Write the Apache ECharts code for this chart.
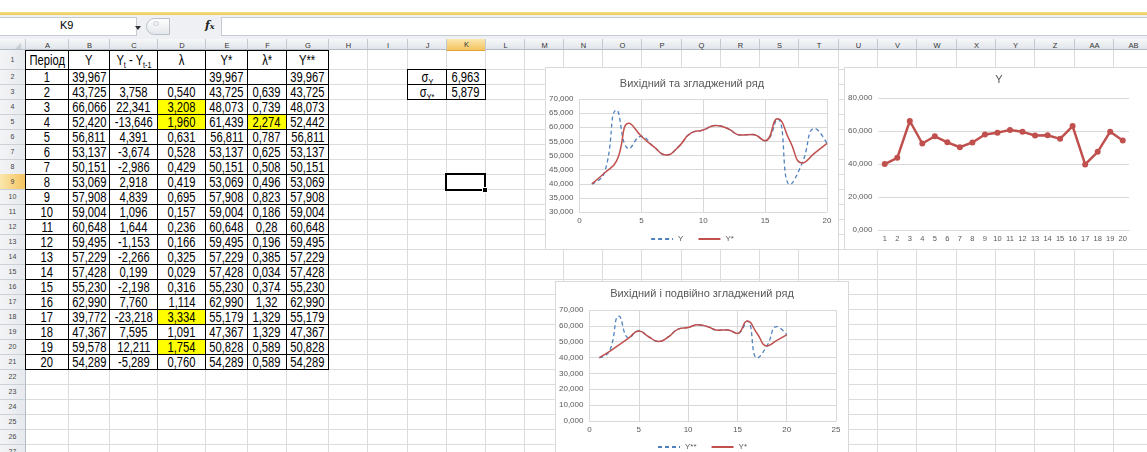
<!DOCTYPE html>
<html><head><meta charset="utf-8">
<script src="https://cdn.jsdelivr.net/npm/echarts@6/dist/echarts.min.js"></script>
<style>
html,body{margin:0;padding:0;width:1147px;height:452px;overflow:hidden;background:#fff;font-family:"Liberation Sans",Arial,sans-serif;}
#sheet{position:absolute;left:0;top:0;width:1147px;height:452px;overflow:hidden;}
.a{position:absolute;box-sizing:border-box;}
.c{display:flex;align-items:center;justify-content:center;white-space:nowrap;}
.t{display:inline-block;transform:scaleX(0.8);transform-origin:center;}
sub{font-size:9px;vertical-align:-3px;line-height:0;}
</style></head><body><div id="sheet"></div>
<script>
// ---------- data ----------
const periods = [1,2,3,4,5,6,7,8,9,10,11,12,13,14,15,16,17,18,19,20];
const valuesY = [39.967,43.725,66.066,52.420,56.811,53.137,50.151,53.069,57.908,59.004,60.648,59.495,57.229,57.428,55.230,62.990,39.772,47.367,59.578,54.289];
const diffY = [null,3.758,22.341,-13.646,4.391,-3.674,-2.986,2.918,4.839,1.096,1.644,-1.153,-2.266,0.199,-2.198,7.760,-23.218,7.595,12.211,-5.289];
const lambda = [null,0.540,3.208,1.960,0.631,0.528,0.429,0.419,0.695,0.157,0.236,0.166,0.325,0.029,0.316,1.114,3.334,1.091,1.754,0.760];
const valuesYStar = [39.967,43.725,48.073,61.439,56.811,53.137,50.151,53.069,57.908,59.004,60.648,59.495,57.229,57.428,55.230,62.990,55.179,47.367,50.828,54.289];
const lambdaStar = [null,0.639,0.739,2.274,0.787,0.625,0.508,0.496,0.823,0.186,0.28,0.196,0.385,0.034,0.374,1.32,1.329,1.329,0.589,0.589];
const valuesYStar2 = [39.967,43.725,48.073,52.442,56.811,53.137,50.151,53.069,57.908,59.004,60.648,59.495,57.229,57.428,55.230,62.990,55.179,47.367,50.828,54.289];
const headers = ['Період','Y','Y<sub>t</sub> - Y<sub>t-1</sub>','λ','Y*','λ*','Y**'];
const sigmaLabels = ['σ<sub>Y</sub>','σ<sub>Y*</sub>'];
const sigmaValues = [6.963, 5.879];
const colLetters = ['A','B','C','D','E','F','G','H','I','J','K','L','M','N','O','P','Q','R','S','T','U','V','W','X','Y','Z','AA','AB'];
const chart1Title = 'Вихідний та згладжений ряд';
const chart2Title = 'Y';
const chart3Title = 'Вихідний і подвійно згладжений ряд';

// ---------- layout ----------
const xs = [0,25,68,109,157,205,247,286,328,367,407,446,485,524,563,602,641,681,720,759,798,838,877,916,956,995,1034,1074,1113,1152];
function rowTop(r){ return r===1 ? 50 : 69 + (r-2)*15; }
function rowBot(r){ return r===1 ? 69 : rowTop(r)+15; }
const sheet = document.getElementById('sheet');
function el(css, html, cls){ const d=document.createElement('div'); d.className='a '+(cls||''); d.style.cssText=css; if(html!==undefined) d.innerHTML=html; sheet.appendChild(d); return d; }
const f3 = v => v.toFixed(3).replace('.', ',');
const fg = v => String(v).replace('.', ',');

// top bar + formula bar
el('left:0;top:0;width:1147px;height:12px;background:#fff;');
el('left:0;top:12px;width:1147px;height:3px;background:linear-gradient(#f7e08a,#eccb55);');
el('left:0;top:15px;width:1147px;height:24px;background:#eef0f3;');
el('left:0;top:17px;width:137px;height:19px;background:#fff;border:1px solid #c5cbd3;border-left:none;');
el('left:60px;top:19px;width:30px;height:15px;font-size:11px;color:#000;', 'K9');
el('left:135px;top:26px;width:0;height:0;border-left:3px solid transparent;border-right:3px solid transparent;border-top:4px solid #333;');
el('left:146px;top:18px;width:24px;height:17px;border:1px solid #b9c0ca;border-radius:9px 0 0 9px;background:linear-gradient(#fdfdfd,#e4e7eb);');
el('left:153px;top:21px;width:6px;height:5px;border:1px solid #cfd4da;border-radius:3px;background:#eef0f2;');
el('left:205px;top:19px;width:14px;height:15px;font-size:11px;font-style:italic;font-weight:bold;font-family:"DejaVu Serif",serif;color:#222;', 'f<span style="font-size:8px">x</span>');
el('left:221px;top:17px;width:930px;height:19px;background:#fff;border:1px solid #c5cbd3;');

// sheet background gridlines
for (let i=1;i<xs.length;i++) el('left:'+xs[i]+'px;top:50px;width:1px;height:402px;background:#dadcdd;');
for (let r=1;r<=28;r++) el('left:25px;top:'+rowBot(r)+'px;width:1122px;height:1px;background:#dadcdd;');

// column header
el('left:0;top:39px;width:1147px;height:11px;background:linear-gradient(#f6f7f9,#e1e5ea);border-bottom:1px solid #b4bbc5;');
for (let i=1;i<xs.length;i++){
  const isK = colLetters[i-1]==='K';
  el('left:'+xs[i]+'px;top:39px;width:'+(xs[i+1]-xs[i]+1 || 40)+'px;height:12px;font-size:7.5px;color:#333;border-left:1px solid #c3c9d1;'+(isK?'background:linear-gradient(#fbe7ad,#f4c460);border-bottom:1px solid #e2a238;':''), colLetters[i-1], 'c');
}
el('left:15px;top:43px;width:0;height:0;border-left:6px solid transparent;border-bottom:6px solid #c9ced5;');
// row header
el('left:0;top:50px;width:26px;height:402px;background:linear-gradient(90deg,#f3f4f6,#e6e9ed);border-right:1px solid #b4bbc5;');
for (let r=1;r<=27;r++){
  const is9 = r===9;
  el('left:0;top:'+rowTop(r)+'px;width:26px;height:'+(rowBot(r)-rowTop(r)+1)+'px;font-size:7px;color:#444;border-bottom:1px solid #ccd1d8;border-right:1px solid #b4bbc5;'+(is9?'background:linear-gradient(90deg,#fbe7ad,#f4c460);border-right:1px solid #e2a238;':''), String(r), 'c');
}

// main table A1:G21
const highlight = {'D4':1,'D5':1,'F5':1,'D18':1,'D20':1};
function cell(ci, r, html, bg){
  const x0=xs[ci+1], x1=xs[ci+2], y0=rowTop(r), y1=rowBot(r);
  el('left:'+x0+'px;top:'+y0+'px;width:'+(x1-x0+1)+'px;height:'+(y1-y0+1)+'px;border:1px solid #000;font-size:14px;color:#000;'+(bg?'background:'+bg+';':'background:#fff;'), html===''?'':'<span class="t">'+html+'</span>', 'c');
}
for (let c=0;c<7;c++) cell(c,1,headers[c]);
for (let i=0;i<periods.length;i++){
  const r=i+2;
  const row=[String(periods[i]), f3(valuesY[i]), diffY[i]===null?'':f3(diffY[i]), lambda[i]===null?'':f3(lambda[i]), f3(valuesYStar[i]), lambdaStar[i]===null?'':fg(lambdaStar[i]), f3(valuesYStar2[i])];
  for (let c=0;c<7;c++){
    const key='ABCDEFG'[c]+r;
    cell(c,r,row[c], highlight[key]?'#ffff00':null);
  }
}
// sigma table J2:K3
for (let k=0;k<2;k++){
  cell(9,k+2,sigmaLabels[k]);
  cell(10,k+2,f3(sigmaValues[k]));
}
// selected cell K9
el('left:445px;top:173px;width:41px;height:18px;border:2px solid #000;');
el('left:482px;top:187px;width:6px;height:6px;background:#000;border:1px solid #fff;');

// ---------- charts ----------
function box(left, top, w, h){
  const d = el('left:'+left+'px;top:'+top+'px;width:'+w+'px;height:'+h+'px;border:1px solid #d9d9d9;background:#fff;');
  const inner=document.createElement('div'); inner.style.cssText='position:absolute;left:0;top:0;width:'+(w-2)+'px;height:'+(h-2)+'px;';
  d.appendChild(inner); return inner;
}
const FONT='"Liberation Sans", Arial, sans-serif';
const TXT='#595959', GRID='#d9d9d9';
const toXY = arr => arr.map((v,i)=>[periods[i], v]);
function titleOpt(text, top){ return {text, left:'center', top, padding:0, textStyle:{fontSize:11, fontWeight:'normal', color:TXT, fontFamily:FONT, lineHeight:12}}; }
function legendOpt(top){ return {top, left:'center', itemWidth:22, itemHeight:8, itemGap:14, itemStyle:{opacity:0}, textStyle:{fontSize:8, color:TXT, fontFamily:FONT}}; }
function valX(max){ return {type:'value', min:0, max, interval:5, axisLine:{show:true, lineStyle:{color:GRID}}, axisTick:{show:false}, splitLine:{show:true, lineStyle:{color:GRID}}, axisLabel:{fontSize:8, color:TXT, fontFamily:FONT, margin:5}}; }
function valY(min,max,interval){ return {type:'value', min, max, interval, axisLine:{show:false}, axisTick:{show:false}, splitLine:{show:true, lineStyle:{color:GRID}}, axisLabel:{fontSize:8, color:TXT, fontFamily:FONT, margin:6, formatter:v=>f3(v)}}; }
function smoothLine(name, arr, color, dashed){ return {name, type:'line', data:toXY(arr), smooth:0.5, symbol:'none', lineStyle:{color, width:dashed?1.3:1.5, type:dashed?[4,3]:'solid'}, itemStyle:{color}}; }

const c1 = echarts.init(box(545,67,294,183), null, {renderer:'canvas'});
c1.setOption({animation:false, title:titleOpt(chart1Title,10), legend:legendOpt(162),
  grid:{left:33,right:11,top:31,bottom:37},
  xAxis:valX(20), yAxis:valY(30,70,5),
  series:[smoothLine('Y', valuesY, '#4f81bd', true), smoothLine('Y*', valuesYStar, '#c0504d', false)]});

const c2 = echarts.init(box(844,67,310,183), null, {renderer:'canvas'});
c2.setOption({animation:false, title:titleOpt(chart2Title,6),
  grid:{left:31,right:24,top:30,bottom:19},
  xAxis:{type:'category', data:periods.map(String), boundaryGap:true, axisLine:{show:true, lineStyle:{color:GRID}}, axisTick:{show:false}, axisLabel:{fontSize:7.5, color:TXT, fontFamily:FONT, margin:5, interval:0}},
  yAxis:valY(0,80,20),
  series:[{name:'Y', type:'line', data:valuesY, symbol:'circle', symbolSize:6, lineStyle:{color:'#c0504d', width:2.5}, itemStyle:{color:'#c0504d'}}]});

const c3 = echarts.init(box(555,281,294,190), null, {renderer:'canvas'});
c3.setOption({animation:false, title:titleOpt(chart3Title,6), legend:legendOpt(156),
  grid:{left:33,right:12,top:28,bottom:49},
  xAxis:valX(25), yAxis:valY(0,70,10),
  series:[smoothLine('Y**', valuesY, '#4f81bd', true), smoothLine('Y*', valuesYStar2, '#c0504d', false)]});
</script></body></html>
